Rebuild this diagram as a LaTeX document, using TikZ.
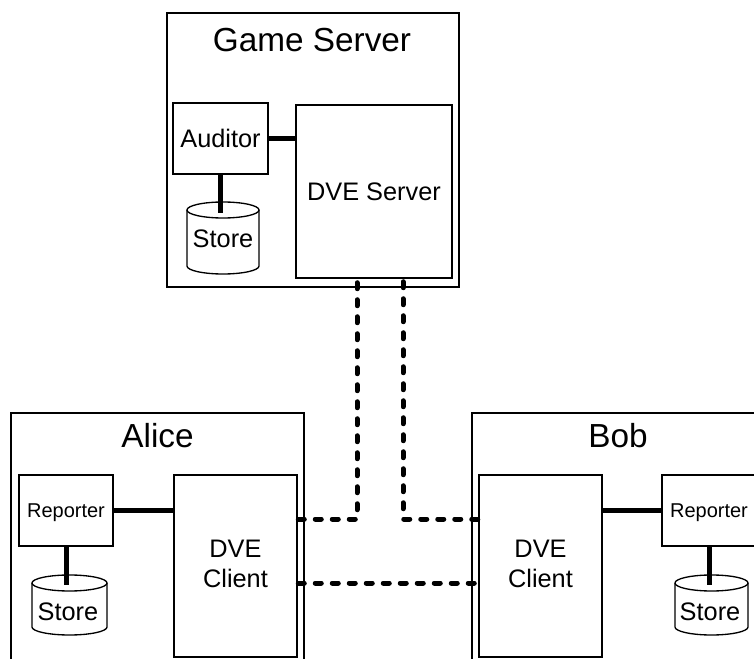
\documentclass[tikz,border=0pt]{standalone}
\usepackage{fontspec}
\setmainfont{Liberation Sans}
\begin{document}
\begin{tikzpicture}[x=0.75pt,y=-0.75pt,
  box/.style={draw,line width=1.875pt,inner sep=0pt,anchor=center},
  conn/.style={line width=3.75pt},
  link/.style={line width=3.75pt,line cap=round,dash pattern=on 4.5pt off 8.25pt},
  cyl/.style={line width=1pt},
  big/.style={font=\fontsize{25}{30}\selectfont},
  mid/.style={font=\fontsize{19}{22.5}\selectfont},
  small/.style={font=\fontsize{15}{18}\selectfont},
  midcap/.style={mid,text height=13.6pt,text depth=0pt},
  smallcap/.style={small,text height=10.8pt,text depth=0pt}]
\clip (0,0) rectangle (754,659);
\fill[white] (0,0) rectangle (754,659);

% Game server
\node[box,minimum width=219pt,minimum height=205.5pt] (gs) at (313,150) {};
\node[big,anchor=base] (gstitle) at (312,52) {Game Server};
\node[box,midcap,minimum width=71.25pt,minimum height=53.25pt] (aud) at (220.5,138.5) {Auditor};
\node[box,midcap,minimum width=117pt,minimum height=129.75pt] (dves) at (374,191.5) {DVE Server};
\draw[cyl] (223,210) ellipse [x radius=36,y radius=8];
\draw[cyl] (187,210) -- (187,266) arc[start angle=180,end angle=0,x radius=36,y radius=8] -- (259,210);
\node[mid,anchor=base] (sstore) at (223,248) {Store};
\coordinate (scyl) at (221,213);
\draw[conn] (aud.south) -- (aud.south |- scyl);
\draw[conn] (aud.east) -- (dves.west |- aud.east);

% Alice
\node[box,minimum width=219.75pt,minimum height=215.25pt] (alice) at (157.5,556.5) {};
\node[big,anchor=base] (alicetitle) at (157.5,448) {Alice};
\node[box,smallcap,minimum width=70.5pt,minimum height=53.25pt] (arep) at (66,510.5) {Reporter};
\node[box,minimum width=92.25pt,minimum height=136.5pt] (acli) at (235.5,566) {};
\node[mid,align=center,anchor=center] (aclitext) at (235.5,564) {DVE\\Client};
\draw[cyl] (69.5,583) ellipse [x radius=37.5,y radius=8];
\draw[cyl] (32,583) -- (32,627) arc[start angle=180,end angle=0,x radius=37.5,y radius=8] -- (107,583);
\node[mid,anchor=base] (astore) at (68,620) {Store};
\coordinate (acyl) at (67,585);
\draw[conn] (arep.south) -- (arep.south |- acyl);
\draw[conn] (arep.east) -- (acli.west |- arep.east);

% Bob
\node[box,minimum width=219.75pt,minimum height=215.25pt] (bob) at (618.5,556.5) {};
\node[big,anchor=base] (bobtitle) at (618,448) {Bob};
\node[box,smallcap,minimum width=70.5pt,minimum height=53.25pt] (brep) at (709,510.5) {Reporter};
\node[box,minimum width=92.25pt,minimum height=136.5pt] (bcli) at (540.5,566) {};
\node[mid,align=center,anchor=center] (bclitext) at (540.5,564) {DVE\\Client};
\draw[cyl] (711.5,583) ellipse [x radius=36.5,y radius=8];
\draw[cyl] (675,583) -- (675,627) arc[start angle=180,end angle=0,x radius=36.5,y radius=8] -- (748,583);
\node[mid,anchor=base] (bstore) at (710,620) {Store};
\coordinate (bcyl) at (710,585);
\draw[conn] (brep.south) -- (brep.south |- bcyl);
\draw[conn] (brep.west) -- (bcli.east |- brep.west);

% network links
\coordinate (j1) at (357,519);
\coordinate (j2) at (403,519);
\coordinate (j3) at (388,583);
\draw[link] (acli.east |- j1) -- (j1) -- (dves.south -| j1);
\draw[link] (bcli.west |- j2) -- (j2) -- (dves.south -| j2);
\draw[link] (acli.east |- j3) -- (bcli.west |- j3);
\end{tikzpicture}
\end{document}
